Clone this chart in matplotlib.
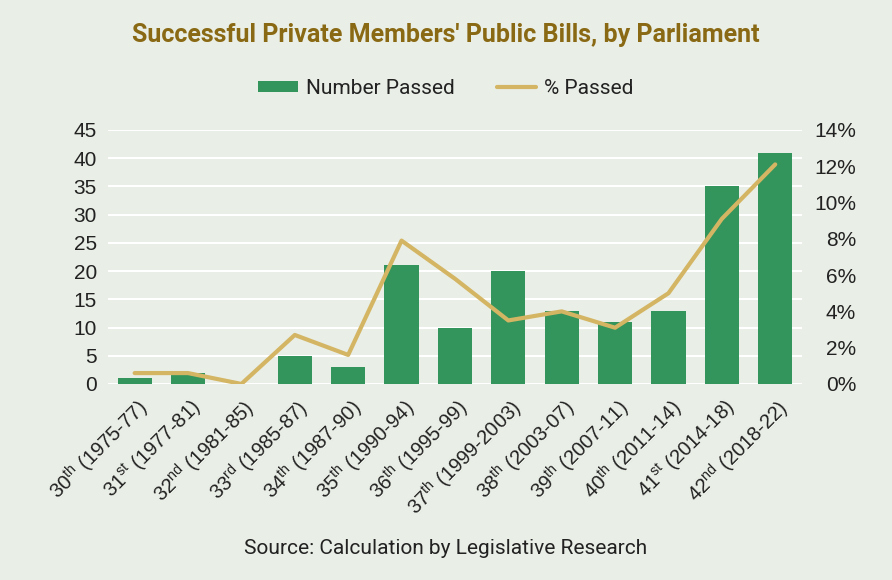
import numpy as np
import matplotlib.pyplot as plt
from matplotlib.ticker import FuncFormatter, MultipleLocator

# data
parliaments = ["30$^{th}$ (1975-77)", "31$^{st}$ (1977-81)", "32$^{nd}$ (1981-85)",
               "33$^{rd}$ (1985-87)", "34$^{th}$ (1987-90)", "35$^{th}$ (1990-94)",
               "36$^{th}$ (1995-99)", "37$^{th}$ (1999-2003)", "38$^{th}$ (2003-07)",
               "39$^{th}$ (2007-11)", "40$^{th}$ (2011-14)", "41$^{st}$ (2014-18)",
               "42$^{nd}$ (2018-22)"]
number_passed = [1, 2, 0, 5, 3, 21, 10, 20, 13, 11, 13, 35, 41]
pct_passed = [0.6, 0.6, 0.0, 2.7, 1.6, 7.9, 5.8, 3.5, 4.0, 3.1, 5.0, 9.1, 12.1]

BG = "#e9eee6"
GREEN = "#33955c"
GOLD = "#d4b563"
TITLE = "#8a6914"
TXT = "#222222"
NARROW = ["Roboto", "DejaVu Sans"]

plt.rcParams['font.family'] = ['Liberation Sans', 'DejaVu Sans']
plt.rcParams['mathtext.fontset'] = 'custom'
plt.rcParams['mathtext.rm'] = 'Liberation Sans'
plt.rcParams['mathtext.it'] = 'Liberation Sans'
plt.rcParams['mathtext.default'] = 'regular'

fig = plt.figure(figsize=(8.92, 5.8), dpi=100, facecolor=BG)
ax = fig.add_axes([0.121, 0.338, 0.778, 0.438])
ax.set_facecolor(BG)
ax2 = ax.twinx()

x = np.arange(len(parliaments))
bars = ax.bar(x, number_passed, width=0.64, color=GREEN, zorder=3, label="Number Passed")
line, = ax2.plot(x, pct_passed, color=GOLD, lw=3.0, solid_capstyle='round', zorder=4,
                 label="% Passed")

ax.set_ylim(0, 45)
ax.yaxis.set_major_locator(MultipleLocator(5))
ax2.set_ylim(0, 14)
ax2.yaxis.set_major_locator(MultipleLocator(2))
ax2.yaxis.set_major_formatter(FuncFormatter(lambda v, p: f"{v:.0f}%"))
ax.set_xlim(-0.5, len(x) - 0.5)

ax.grid(axis='y', color='white', lw=1.5, zorder=0)
for a in (ax, ax2):
    for s in a.spines.values():
        s.set_visible(False)
    a.tick_params(length=0, labelsize=15, colors=TXT)
ax.tick_params(axis='y', pad=8)
ax2.tick_params(axis='y', pad=39)
for lab in ax2.get_yticklabels():
    lab.set_ha('right')

ax.set_xticks(x)
ax.set_xticklabels(parliaments, rotation=45, ha='right', rotation_mode='anchor',
                   fontsize=14.5)
ax.tick_params(axis='x', pad=8)

fig.text(0.5, 0.94, "Successful Private Members' Public Bills, by Parliament",
         ha='center', va='center', fontsize=18, fontweight='bold', color=TITLE,
         family=NARROW)
fig.legend(handles=[bars, line], loc='center', bbox_to_anchor=(0.5, 0.848), ncol=2,
           frameon=False, prop={'family': NARROW, 'size': 15}, handlelength=1.9,
           handleheight=0.45, handletextpad=0.4, columnspacing=2.0, labelcolor=TXT)
fig.text(0.5, 0.055, "Source: Calculation by Legislative Research", ha='center',
         va='center', fontsize=15, color=TXT, family=NARROW)

plt.savefig("out.png", dpi=100, facecolor=BG)
